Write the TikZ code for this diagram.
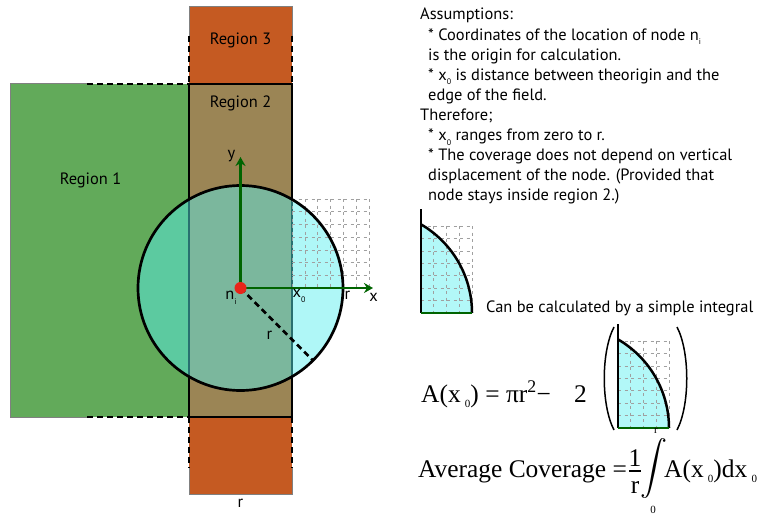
\documentclass[tikz,border=0pt]{standalone}
\usepackage{fontspec}
\usepackage{graphicx}
\setmainfont{PT Sans}
\newfontfamily\seriffont{Liberation Serif}
\usetikzlibrary{arrows.meta}
\definecolor{regone}{RGB}{98,170,90}
\definecolor{regtwo}{RGB}{155,133,85}
\definecolor{regthree}{RGB}{197,90,34}
\definecolor{covcyan}{RGB}{87,240,240}
\definecolor{lightcyan}{RGB}{178,248,248}
\definecolor{axisgreen}{RGB}{0,100,0}
\definecolor{gridgray}{RGB}{160,160,160}
\definecolor{dotred}{RGB}{232,37,26}
\newlength\fitlen
\newcommand\lsub[1]{\raisebox{-0.28em}{\fontsize{8}{8}\selectfont #1}}
\newcommand\ssub[1]{\,\raisebox{-0.22em}{\fontsize{11}{11}\selectfont #1}}
\newcommand\quarterfig[2]{%
  \fill[lightcyan] ({#1},{#2}) -- ({#1},{#2-88.6}) -- plot[domain=-59.84:0, samples=40] ({#1-51.5+102.5*cos(\x)},{#2+102.5*sin(\x)}) -- cycle;
  \foreach \i in {0,...,4} \draw[gridline] ({#1+12.75*\i},{#2-87}) -- ({#1+12.75*\i},{#2});
  \foreach \j in {0,...,7} \draw[gridline] ({#1},{#2-12.43*\j}) -- ({#1+51},{#2-12.43*\j});
  \draw[line width=2.5pt] plot[domain=-59.84:0, samples=40] ({#1-51.5+102.5*cos(\x)},{#2+102.5*sin(\x)});
  \draw[line width=1.3pt] ({#1},{#2-103.6}) -- ({#1},{#2});
  \draw[axisgreen, line width=2pt] ({#1},{#2}) -- ({#1+51},{#2});
}
\tikzset{
  lbl/.style={font=\fontsize{\mfs}{\mfs}\selectfont, inner sep=0pt},
  txt/.style={lbl, anchor=base west},
  frm/.style={font=\seriffont\fontsize{\sfs}{\sfs}\selectfont, inner sep=0pt, anchor=base west},
  frmsmall/.style={font=\seriffont\fontsize{11}{11}\selectfont, inner sep=0pt},
  regborder/.style={draw=gray, line width=1pt},
  edgedash/.style={line width=2.5pt, dash pattern=on 6pt off 4pt},
  gridline/.style={draw=gridgray, line width=0.55pt, dash pattern=on 3pt off 3.5pt},
  axisarrow/.style={draw=axisgreen, line width=2.6pt, -{Stealth[length=9pt,width=10pt]}},
}
\begin{document}
\settowidth\fitlen{\fontsize{10}{12}\selectfont * The coverage does not depend on vertical}%
\pgfmathsetmacro\mfs{10*304/\fitlen}%
\settowidth\fitlen{\seriffont\fontsize{10}{12}\selectfont Average Coverage}%
\pgfmathsetmacro\sfs{10*188/\fitlen}%
\begin{tikzpicture}[x=1pt,y=-1pt]
\useasboundingbox (0,0) rectangle (759,516);
\fill[white] (0,0) rectangle (759,516);
% Region 1
\fill[regone] (10,84) rectangle (189,417);
\draw[regborder] (87,84) -- (10,84) -- (10,417) -- (87,417);
\draw[edgedash] (87,84) -- (189,84);
\draw[edgedash] (87,417) -- (189,417);
% Region 3 (top and bottom)
\fill[regthree] (189,7) rectangle (292,84);
\draw[regborder] (189,36) -- (189,7) -- (292,7) -- (292,36);
\draw[edgedash] (189,36) -- (189,84);
\draw[edgedash] (292,36) -- (292,84);
\fill[regthree] (189,417) rectangle (292,494);
\draw[regborder] (189,468) -- (189,494) -- (292,494) -- (292,468);
\draw[edgedash] (189,417) -- (189,468);
\draw[edgedash] (292,417) -- (292,468);
% Region 2
\fill[regtwo] (189,84) rectangle (292,417);
\draw[line width=2pt] (189,84) rectangle (292,417);
\node[lbl] (r3) at (240.5,40) {Region 3};
\node[lbl] (r2) at (240.5,103) {Region 2};
\node[lbl] (r1) at (90.5,180) {Region 1};
\node[lbl] (rbot) at (240.5,503) {r};
% coverage circle
\coordinate (o) at (240.5,288);
\fill[covcyan, fill opacity=0.47] (o) circle (102.5);
\foreach \i in {0,...,6} \draw[gridline] ({292+12.8*\i},199) -- ({292+12.8*\i},288);
\foreach \j in {0,...,7} \draw[gridline] (292,{199+12.71*\j}) -- (368.8,{199+12.71*\j});
\draw[line width=2.7pt] (o) circle (102.5);
\coordinate (ytip) at (240.5,157);
\coordinate (xtip) at (373,288);
\coordinate (rend) at (313,360.5);
\draw[axisarrow] (o) -- (ytip);
\draw[axisarrow] (o) -- (xtip);
\draw[line width=2.7pt, dash pattern=on 6pt off 4pt] (o) -- (rend);
\node[circle, fill=dotred, inner sep=0pt, minimum size=12pt] (dot) at (o) {};
\node[lbl] (ylab) at (231.5,156) {y};
\node[lbl] (xlab) at (373.5,297) {x};
\node[lbl] (rlab) at (347.5,295) {r};
\node[lbl] (x0lab) at (299,296) {x\lsub{0}};
\node[lbl] (nilab) at (231,298) {n\lsub{i}};
\node[lbl] (rrad) at (269.5,335) {r};
% assumptions text
\node[txt] (l1) at (420,20) {Assumptions:};
\node[txt] (l2) at (428,40.1) {* Coordinates of the location of node n\lsub{i}};
\node[txt] (l3) at (428,60.2) {is the origin for calculation.};
\node[txt] (l4) at (428,80.3) {* x\lsub{0} is distance between theorigin and the};
\node[txt] (l5) at (428,100.4) {edge of the field.};
\node[txt] (l6) at (420,120.5) {Therefore;};
\node[txt] (l7) at (428,140.6) {* x\lsub{0} ranges from zero to r.};
\node[txt] (l8) at (428,160.7) {* The coverage does not depend on vertical};
\node[txt] (l9) at (428,180.8) {displacement of the node. (Provided that};
\node[txt] (l10) at (428,200.9) {node stays inside region 2.)};
% small figure
\quarterfig{421}{313}
\node[txt] (cantext) at (486,312) {Can be calculated by a simple integral};
% formula 1
\node[frm] (f1) at (421,402) {A(x\ssub{0}) = πr\textsuperscript{2}−};
\node[frm] (f2) at (574,402) {2};
\draw[line width=1.5pt] (614,327) .. controls (601,352) and (601,405) .. (614,430);
\draw[line width=1.5pt] (677,327) .. controls (690,352) and (690,405) .. (677,430);
\quarterfig{618}{428}
% formula 2
\node[frm] (f3) at (418,477) {Average Coverage =};
\node[frm, anchor=base] (one) at (635,466) {1};
\draw[line width=1.6pt] (629,471) -- (641,471);
\node[frm, anchor=base] (rden) at (635,493) {r};
\node[inner sep=0pt] (int) at (654,468) {\resizebox*{!}{60pt}{$\displaystyle\int$}};
\node[frmsmall] (ltop) at (656,431) {r};
\node[frmsmall] (lbot) at (653,510) {0};
\node[frm] (f4) at (664,477) {A(x\ssub{0})dx\ssub{0}};
\end{tikzpicture}
\end{document}
